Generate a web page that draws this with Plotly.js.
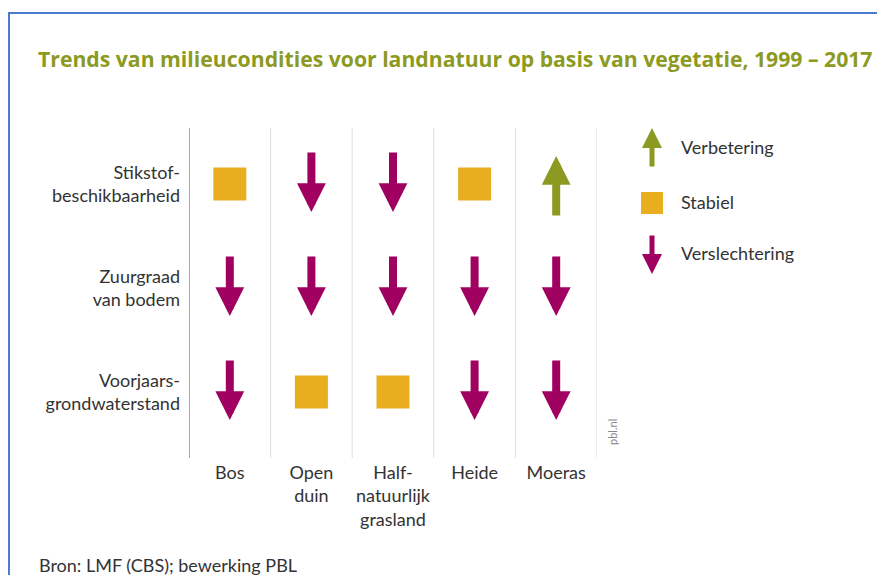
<!DOCTYPE html>
<html><head><meta charset="utf-8">
<script src="https://cdn.plot.ly/plotly-3.0.1.min.js"></script>
<style>
html,body{margin:0;padding:0;width:877px;height:575px;overflow:hidden;background:#fff;}
#frame{position:absolute;left:8px;top:12px;width:1200px;height:1000px;border:2px solid #4a7bd0;box-sizing:border-box;}
#chart{position:absolute;left:0;top:0;width:877px;height:575px;}
</style></head><body>
<div id="frame"></div>
<div id="chart"></div>
<script>
// ---- data ----
const categories = ['Bos', 'Open<br>duin', 'Half-<br>natuurlijk<br>grasland', 'Heide', 'Moeras'];
const conditions = ['Stikstof-<br>beschikbaarheid', 'Zuurgraad<br>van bodem', 'Voorjaars-<br>grondwaterstand'];
const stikstof   = ['stabiel', 'verslechtering', 'verslechtering', 'stabiel', 'verbetering'];
const zuurgraad  = ['verslechtering', 'verslechtering', 'verslechtering', 'verslechtering', 'verslechtering'];
const grondwater = ['verslechtering', 'stabiel', 'stabiel', 'verslechtering', 'verslechtering'];
const legendLabels = ['Verbetering', 'Stabiel', 'Verslechtering'];
const titleText = 'Trends van milieucondities voor landnatuur op basis van vegetatie, 1999 – 2017';
const sourceText = 'Bron: LMF (CBS); bewerking PBL';
const watermark = 'pbl.nl';

// ---- styles ----
const MAGENTA = '#a0005f', ORANGE = '#e8ae20', OLIVE = '#8c9a22', TXT = '#333333';
const FONT = 'Lato, "Open Sans", sans-serif';
const TITLE_FONT = '"Open Sans", Lato, sans-serif';
const W = 877, H = 575, L = 189, R = 280, T = 128, B = 117;
const pw = W - L - R, ph = H - T - B;
const px2paperX = p => (p - L) / pw;
const px2paperY = p => (H - B - p) / ph;

const rows = [stikstof, zuurgraad, grondwater];
const sqX = [], sqY = [];
const annotations = [];
const ARROW_LEN = 61, TIP_SHIFT = 28;
rows.forEach((row, j) => {
  row.forEach((v, i) => {
    if (v === 'stabiel') { sqX.push(i); sqY.push(j); }
    else {
      const up = v === 'verbetering';
      annotations.push({
        x: i, y: j, xref: 'x', yref: 'y', text: '', showarrow: true,
        arrowhead: 2, arrowsize: 0.72, arrowwidth: 8, standoff: 0,
        arrowcolor: up ? OLIVE : MAGENTA,
        ax: 0, ay: up ? ARROW_LEN : -ARROW_LEN,
        yshift: up ? TIP_SHIFT : -TIP_SHIFT
      });
    }
  });
});

// legend
const legendY = [148, 203, 254];
const legendX = 652;
annotations.push({
  x: px2paperX(legendX), y: px2paperY(legendY[0]), xref: 'paper', yref: 'paper',
  text: '', showarrow: true, arrowhead: 2, arrowsize: 0.8, arrowwidth: 5, standoff: 0,
  arrowcolor: OLIVE, ax: 0, ay: 40, yshift: 20
});
annotations.push({
  x: px2paperX(legendX), y: px2paperY(legendY[2]), xref: 'paper', yref: 'paper',
  text: '', showarrow: true, arrowhead: 2, arrowsize: 0.8, arrowwidth: 5, standoff: 0,
  arrowcolor: MAGENTA, ax: 0, ay: -40, yshift: -20
});
legendLabels.forEach((t, k) => {
  annotations.push({
    x: px2paperX(679), y: px2paperY(legendY[k] - 1), xref: 'paper', yref: 'paper',
    text: t, showarrow: false, xanchor: 'left', yanchor: 'middle',
    font: {family: FONT, size: 18, color: TXT}
  });
});
annotations.push({
  x: px2paperX(37), y: px2paperY(565), xref: 'paper', yref: 'paper',
  text: sourceText, showarrow: false, xanchor: 'left', yanchor: 'middle',
  font: {family: FONT, size: 18, color: TXT}
});
annotations.push({
  x: px2paperX(612), y: px2paperY(432), xref: 'paper', yref: 'paper',
  text: watermark, showarrow: false, textangle: -90, xanchor: 'center', yanchor: 'middle',
  font: {family: FONT, size: 11, color: '#8a8a8a'}
});

const shapes = [];
for (let k = 0; k <= categories.length; k++) {
  shapes.push({
    type: 'line', xref: 'x', yref: 'paper', x0: k - 0.5, x1: k - 0.5, y0: 0, y1: 1,
    line: {color: k === 0 ? '#8c8c8c' : '#dcdcdc', width: k === 0 ? 1.5 : 1}, layer: 'below'
  });
}
shapes.push({
  type: 'rect', xref: 'paper', yref: 'paper', xsizemode: 'pixel', ysizemode: 'pixel',
  xanchor: px2paperX(legendX), yanchor: px2paperY(legendY[1]),
  x0: -11, x1: 11, y0: -11, y1: 11, fillcolor: ORANGE, line: {width: 0}
});

const traces = [{
  type: 'scatter', mode: 'markers', x: sqX, y: sqY,
  marker: {symbol: 'square', size: 33, color: ORANGE, line: {width: 0}},
  hoverinfo: 'skip', cliponaxis: false, showlegend: false
}];

const rowTop = -0.538, rowBottom = 2.635;
const layout = {
  width: W, height: H,
  margin: {l: L, r: R, t: T, b: B, pad: 0},
  paper_bgcolor: 'rgba(0,0,0,0)', plot_bgcolor: 'rgba(0,0,0,0)',
  font: {family: FONT, size: 18, color: TXT},
  title: {
    text: '<b>' + titleText + '</b>', xref: 'container', yref: 'container',
    x: 38 / W, xanchor: 'left', y: 1 - 60 / H, yanchor: 'middle',
    font: {family: TITLE_FONT, size: 21.2, color: OLIVE}
  },
  xaxis: {
    range: [-0.5, categories.length - 0.5], tickmode: 'array',
    tickvals: categories.map((c, i) => i), ticktext: categories,
    showgrid: false, zeroline: false, showline: false, ticks: '', fixedrange: true,
    ticklabelstandoff: 2,
    tickfont: {family: FONT, size: 18, color: TXT}
  },
  yaxis: {
    range: [rowBottom, rowTop], tickmode: 'array',
    tickvals: conditions.map((c, j) => j), ticktext: conditions,
    showgrid: false, zeroline: false, showline: false, ticks: '', fixedrange: true,
    ticklabelstandoff: 8,
    tickfont: {family: FONT, size: 18, color: TXT}
  },
  showlegend: false,
  hovermode: false,
  shapes: shapes,
  annotations: annotations
};

Plotly.newPlot('chart', traces, layout, {staticPlot: true, displayModeBar: false});
</script>
</body></html>
